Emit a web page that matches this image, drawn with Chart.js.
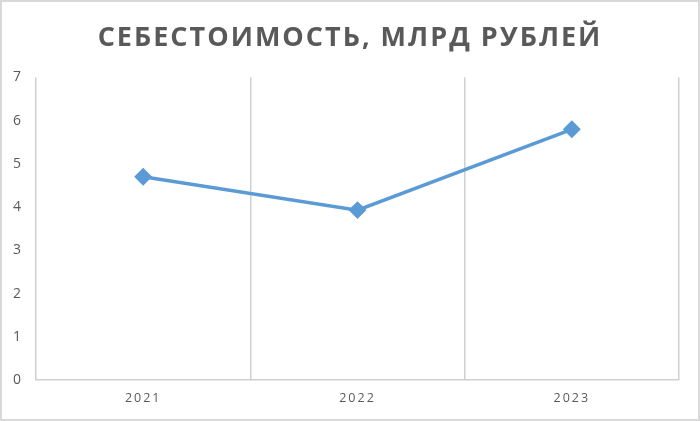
<!DOCTYPE html>
<html>
<head>
  <meta charset="utf-8">
  <title>Себестоимость</title>
  <script src="https://cdn.jsdelivr.net/npm/chart.js"></script>
  <style>
    html, body { margin: 0; padding: 0; background: #fff; }
    #wrap { width: 700px; height: 421px; box-sizing: border-box; border: 2px solid #d9d9d9; position: relative; }
  </style>
</head>
<body>
  <div id="wrap"><canvas id="chart"></canvas></div>
  <script>
    const years = ['2021', '2022', '2023'];
    const cost = [4.7, 3.93, 5.8];
    const yTicks = [0, 1, 2, 3, 4, 5, 6, 7];

    // Excel-like letter spacing for all text; title centred on the whole canvas
    const tweaks = {
      id: 'tweaks',
      afterLayout(chart) {
        if (chart.titleBlock) {
          chart.titleBlock.left = 0;
          chart.titleBlock.right = chart.width;
        }
      },
      beforeDraw(chart) { chart.ctx.letterSpacing = '2px'; }
    };

    const ctx = document.getElementById('chart').getContext('2d');
    new Chart(ctx, {
      type: 'line',
      data: {
        labels: years,
        datasets: [{
          data: cost,
          borderColor: '#5b9bd5',
          backgroundColor: '#5b9bd5',
          borderWidth: 3.5,
          pointStyle: 'rectRot',
          pointRadius: 6.5,
          pointHoverRadius: 6.5,
          fill: false,
          tension: 0
        }]
      },
      options: {
        responsive: true,
        maintainAspectRatio: false,
        animation: false,
        layout: { padding: { left: 0, right: 19, top: 20, bottom: 2 } },
        plugins: {
          legend: { display: false },
          tooltip: { enabled: false },
          title: {
            display: true,
            text: 'СЕБЕСТОИМОСТЬ, МЛРД РУБЛЕЙ',
            color: '#595959',
            font: { family: 'Open Sans', size: 27, weight: 'bold' },
            padding: { top: 0, bottom: 23 }
          }
        },
        scales: {
          x: {
            offset: true,
            grid: { offset: true, color: '#d0d0d0', lineWidth: 1.5, drawTicks: false },
            border: { color: '#d0d0d0', width: 1.5 },
            ticks: { color: '#595959', font: { family: 'Open Sans', size: 12.5 }, padding: 11 }
          },
          y: {
            min: 0,
            max: 7,
            afterBuildTicks(axis) { axis.ticks = yTicks.map(v => ({ value: v })); },
            grid: { display: false, drawTicks: false },
            border: { display: false },
            ticks: { color: '#595959', font: { family: 'Open Sans', size: 14 }, padding: 13 }
          }
        }
      },
      plugins: [tweaks]
    });
  </script>
</body>
</html>
